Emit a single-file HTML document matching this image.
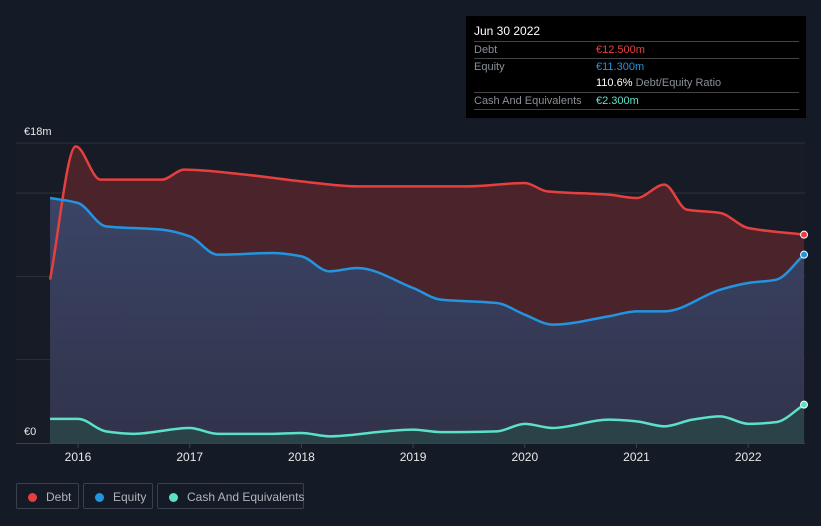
<!DOCTYPE html>
<html><head><meta charset="utf-8"><style>
body{margin:0;background:#151b26;font-family:"Liberation Sans",sans-serif;}
#wrap{position:relative;width:821px;height:526px;overflow:hidden;background:#151b26}
.tt{position:absolute;left:466px;top:16px;width:340px;height:102px;background:#000;color:#fff;font-size:11px}
.row{position:absolute;left:8px;width:325px;border-top:1px solid #444;height:17px;line-height:17px}
.lab{color:#8a8f98;position:absolute;left:0}
.val{position:absolute;left:122px;white-space:nowrap}
.leg{position:absolute;top:483px;height:26px;border:1px solid #3a404c;border-radius:2px;color:#b0b4ba;font-size:12px;line-height:26px;box-sizing:border-box;white-space:nowrap}
.dot{display:inline-block;width:9px;height:9px;border-radius:50%;margin:0 9px 0 11px;vertical-align:-1px}
</style></head><body><div id="wrap">
<svg id="svg" width="821" height="526" style="position:absolute;left:0;top:0"></svg>
<div class="tt">
<div style="position:absolute;left:8px;top:8px;font-size:12px">Jun 30 2022</div>
<div class="row" style="top:25px"><span class="lab">Debt</span><span class="val" style="color:#e5403f">€12.500m</span></div>
<div class="row" style="top:42px"><span class="lab">Equity</span><span class="val" style="color:#2394e0">€11.300m</span></div>
<div class="row" style="top:59px;border-top:none"><span class="val"><b style="font-weight:normal;color:#fff">110.6%</b> <span style="color:#8a8f98">Debt/Equity Ratio</span></span></div>
<div class="row" style="top:76px"><span class="lab">Cash And Equivalents</span><span class="val" style="color:#5ce0c8">€2.300m</span></div>
<div class="row" style="top:93px;height:0"></div>
</div>
<div class="leg" style="left:16px;width:63px"><span class="dot" style="background:#e5403f"></span>Debt</div>
<div class="leg" style="left:83px;width:70px"><span class="dot" style="background:#2394e0"></span>Equity</div>
<div class="leg" style="left:157px;width:147px"><span class="dot" style="background:#5ce0c8"></span>Cash And Equivalents</div>
</div>
<script>
const debtT=[2015.75,2015.98,2016.2,2016.75,2016.95,2017.5,2018.0,2018.5,2019.0,2019.5,2020.0,2020.2,2020.75,2021.0,2021.25,2021.45,2021.75,2022.0,2022.5];
const debtV=[9.8,17.8,15.8,15.8,16.4,16.1,15.7,15.4,15.4,15.4,15.6,15.1,14.9,14.7,15.5,14.0,13.8,12.9,12.5];
const eqT=[2015.75,2016.0,2016.25,2016.75,2017.0,2017.25,2017.75,2018.0,2018.25,2018.5,2019.0,2019.25,2019.75,2020.0,2020.25,2020.75,2021.0,2021.25,2021.75,2022.0,2022.25,2022.5];
const eqV=[14.7,14.4,13.0,12.8,12.4,11.3,11.4,11.2,10.3,10.5,9.3,8.6,8.4,7.7,7.1,7.6,7.9,7.9,9.2,9.6,9.8,11.3];
const cashT=[2015.75,2016.0,2016.25,2016.5,2017.0,2017.25,2017.75,2018.0,2018.25,2018.75,2019.0,2019.25,2019.75,2020.0,2020.25,2020.75,2021.0,2021.25,2021.5,2021.75,2022.0,2022.25,2022.5];
const cashV=[1.45,1.45,0.7,0.55,0.9,0.55,0.55,0.6,0.4,0.7,0.8,0.65,0.7,1.15,0.9,1.4,1.3,1.0,1.4,1.6,1.15,1.25,2.3];
const yTicks=[0,5,10,15,18];
const xTicks=[2016,2017,2018,2019,2020,2021,2022];
const X=t=>78+(t-2016)*111.7, Y=v=>443-v*300/18;
const svg=document.getElementById('svg'),NS='http://www.w3.org/2000/svg';
function mk(tag,a,name){const e=document.createElementNS(NS,tag);for(const k in a)e.setAttribute(k,a[k]);


svg.appendChild(e);return e;}
function path(T,V){const p=T.map((t,i)=>[X(t),Y(V[i])]);const n=p.length;
const s=[];for(let i=0;i<n-1;i++)s.push((p[i+1][1]-p[i][1])/(p[i+1][0]-p[i][0]));
const m=[s[0]];for(let i=1;i<n-1;i++){m.push(s[i-1]*s[i]<=0?0:2/(1/s[i-1]+1/s[i]));}m.push(s[n-2]);
let d='M'+p[0];
for(let i=0;i<n-1;i++){const h=(p[i+1][0]-p[i][0])/3;
d+=` C${p[i][0]+h},${p[i][1]+m[i]*h} ${p[i+1][0]-h},${p[i+1][1]-m[i+1]*h} ${p[i+1][0]},${p[i+1][1]}`;}return d;}
svg.innerHTML='<defs><linearGradient id="ge" x1="0" y1="0" x2="0" y2="1"><stop offset="0" stop-color="#3b4466"/><stop offset="1" stop-color="#30334a"/></linearGradient></defs>';
mk('rect',{x:16,y:143,width:789,height:300,fill:'#161b25'},'plot-bg');
yTicks.forEach(v=>{if(v>0)mk('line',{x1:16,x2:805,y1:Y(v),y2:Y(v),stroke:'#2c313c'},'grid-line');});
const dD=path(debtT,debtV),dE=path(eqT,eqV),dC=path(cashT,cashV);
const x0=X(2015.75),x1=X(2022.5);
mk('path',{d:dD+` L${x1},443 L${x0},443Z`,fill:'#4a232b'},'debt-area');
mk('path',{d:dE+` L${x1},443 L${x0},443Z`,fill:'url(#ge)'},'equity-area');
mk('path',{d:dC+` L${x1},443 L${x0},443Z`,fill:'#2b4248'},'cash-area');
mk('path',{d:dD,fill:'none',stroke:'#e5403f','stroke-width':2.5},'debt-line');
mk('path',{d:dE,fill:'none',stroke:'#2394e0','stroke-width':2.5},'equity-line');
mk('path',{d:dC,fill:'none',stroke:'#5ce0c8','stroke-width':2.5},'cash-line');
[[debtV,'#e5403f','debt'],[eqV,'#2394e0','equity'],[cashV,'#5ce0c8','cash']].forEach(s=>mk('circle',{cx:x1,cy:Y(s[0][s[0].length-1]),r:3.5,fill:s[1],stroke:'#fff','stroke-width':1},s[2]+'-end-dot'));
mk('line',{x1:16,x2:805,y1:443.5,y2:443.5,stroke:'#3a404c'},'x-axis');
xTicks.forEach(t=>{mk('line',{x1:X(t),x2:X(t),y1:443,y2:448,stroke:'#3a404c'},'x-tick');
const tx=mk('text',{x:X(t),y:461,fill:'#e8e8e8','font-size':12,'text-anchor':'middle','font-family':'Liberation Sans'},'x-tick-label');tx.textContent=t;});
const l1=mk('text',{x:24,y:135,fill:'#e8e8e8','font-size':11,'font-family':'Liberation Sans'},'y-max-label');l1.textContent='€18m';
const l0=mk('text',{x:24,y:435,fill:'#e8e8e8','font-size':11,'font-family':'Liberation Sans'},'y-zero-label');l0.textContent='€0';
</script></body></html>
